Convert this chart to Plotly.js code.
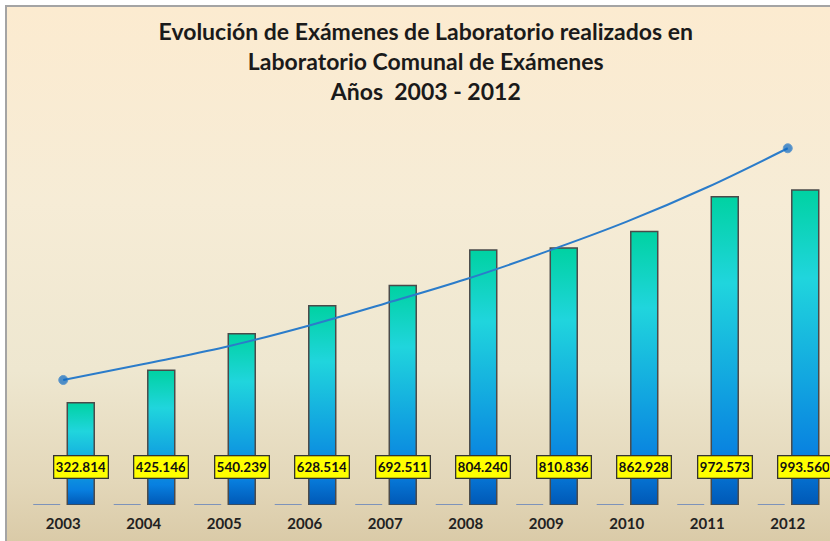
<!DOCTYPE html>
<html>
<head>
<meta charset="utf-8">
<script src="https://cdn.plot.ly/plotly-3.0.1.min.js"></script>
<style>
  html, body { margin: 0; padding: 0; background: #fff; overflow: hidden; }
  #marco {
    position: absolute; left: 5px; top: 5px; width: 840px; height: 560px;
    border-left: 2px solid #a4a4a4; border-top: 2px solid #a4a4a4;
    background: linear-gradient(to bottom, #fcebd0 0%, #f6ecd6 35%, #eee7d0 65%, #e3d7b9 85%, #d6c5a0 100%);
  }
  #grafico { position: absolute; left: 0; top: 0; width: 830px; height: 541px; }
</style>
</head>
<body>
<div id="marco"></div>
<div id="grafico"></div>
<script>
const anios = ["2003", "2004", "2005", "2006", "2007", "2008", "2009", "2010", "2011", "2012"];
const examenes = [322814, 425146, 540239, 628514, 692511, 804240, 810836, 862928, 972573, 993560];
const serieCero = [0, 0, 0, 0, 0, 0, 0, 0, 0, 0];
// linea de tendencia
const tendencia = [394400, 444900, 497500, 562500, 635700, 712100, 799200, 893800, 1002300, 1125400];

const alturaEtiqueta = 120000;

function formatear(n) {
  return String(n).replace(/\B(?=(\d{3})+(?!\d))/g, ".");
}

const ultimo = tendencia.length - 1;

const trazas = [
  {
    type: "bar",
    x: anios,
    y: serieCero,
    offset: -0.373,
    width: 0.335,
    marker: { color: "#7d93ba", line: { color: "#7d93ba", width: 2 } },
    hoverinfo: "skip"
  },
  {
    type: "bar",
    x: anios,
    y: examenes,
    offset: 0.05,
    width: 0.335,
    marker: { color: "#18a8dc", line: { color: "#4a4a4a", width: 1.5 } },
    hoverinfo: "skip"
  },
  {
    type: "scatter",
    mode: "lines+markers",
    x: anios,
    y: tendencia,
    line: { color: "#2b7cca", width: 2, shape: "spline" },
    marker: {
      color: "#0a68c4",
      size: tendencia.map((v, i) => (i === 0 || i === ultimo ? 9 : 0))
    },
    hoverinfo: "skip"
  }
];

// cajas amarillas con el valor, sobre cada barra
const etiquetas = anios.map((a, i) => ({
  x: i + 0.2175,
  y: alturaEtiqueta,
  xref: "x",
  yref: "y",
  text: "<b>" + formatear(examenes[i]) + "</b>",
  showarrow: false,
  width: 49,
  height: 17,
  bgcolor: "#ffff00",
  bordercolor: "#333333",
  borderwidth: 1.3,
  borderpad: 2,
  font: { family: "Lato", size: 13.5, color: "#111111" }
}));

const layout = {
  width: 830,
  height: 541,
  margin: { l: 23, r: 2, t: 130, b: 36 },
  paper_bgcolor: "rgba(0,0,0,0)",
  plot_bgcolor: "rgba(0,0,0,0)",
  showlegend: false,
  barmode: "overlay",
  title: {
    text: "<b>Evolución de Exámenes de Laboratorio realizados en<br>Laboratorio Comunal de Exámenes<br>Años\u00a0 2003 - 2012</b>",
    font: { family: "Lato", size: 23, color: "#1a1a1a" },
    x: 0.513,
    xanchor: "center",
    xref: "container",
    yref: "container",
    y: 0.926,
    yanchor: "top"
  },
  xaxis: {
    type: "category",
    range: [-0.5, 9.5],
    showgrid: false,
    zeroline: false,
    showline: false,
    ticks: "",
    ticklabelstandoff: 8,
    tickfont: { family: "Lato", size: 15, color: "#222222", weight: "bold" }
  },
  yaxis: {
    range: [0, 1183000],
    visible: false,
    showgrid: false,
    zeroline: false
  },
  annotations: etiquetas
};

Plotly.newPlot("grafico", trazas, layout, { staticPlot: true }).then((gd) => {
  // degradado vertical de cada barra (verde arriba, azul abajo)
  const ns = "http://www.w3.org/2000/svg";
  const svg = gd.querySelector("svg.main-svg");
  let defs = svg.querySelector("defs");
  if (!defs) {
    defs = document.createElementNS(ns, "defs");
    svg.insertBefore(defs, svg.firstChild);
  }
  const grad = document.createElementNS(ns, "linearGradient");
  grad.setAttribute("id", "degradadoBarra");
  grad.setAttribute("x1", "0");
  grad.setAttribute("y1", "0");
  grad.setAttribute("x2", "0");
  grad.setAttribute("y2", "1");
  [
    ["0%", "#00d2a2"],
    ["28%", "#20d5dd"],
    ["60%", "#12a6e0"],
    ["85%", "#0880e0"],
    ["100%", "#0058b6"]
  ].forEach(([pos, col]) => {
    const s = document.createElementNS(ns, "stop");
    s.setAttribute("offset", pos);
    s.setAttribute("stop-color", col);
    grad.appendChild(s);
  });
  defs.appendChild(grad);

  const capas = gd.querySelectorAll(".barlayer .trace");
  if (capas[1]) {
    capas[1].querySelectorAll("path").forEach((p) => {
      p.style.fill = "url(#degradadoBarra)";
    });
  }
});
</script>
</body>
</html>
